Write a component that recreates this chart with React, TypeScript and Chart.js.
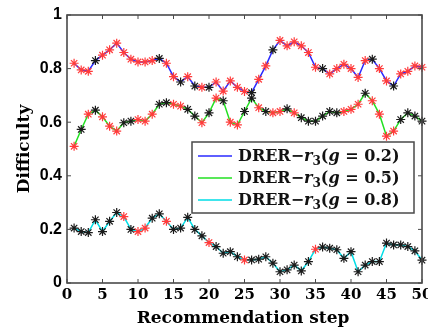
import { useEffect, useRef } from "react";
import { Chart, registerables } from "chart.js";
Chart.register(...registerables);

const steps = [1, 2, 3, 4, 5, 6, 7, 8, 9, 10, 11, 12, 13, 14, 15, 16, 17, 18, 19, 20, 21, 22, 23, 24, 25, 26, 27, 28, 29, 30, 31, 32, 33, 34, 35, 36, 37, 38, 39, 40, 41, 42, 43, 44, 45, 46, 47, 48, 49, 50];

const diffG02 = [0.82, 0.795, 0.79, 0.83, 0.85, 0.87, 0.895, 0.86, 0.835, 0.825, 0.825, 0.83, 0.838, 0.82, 0.77, 0.75, 0.77, 0.735, 0.73, 0.73, 0.75, 0.716, 0.754, 0.73, 0.715, 0.71, 0.76, 0.81, 0.87, 0.905, 0.885, 0.9, 0.885, 0.86, 0.805, 0.8, 0.78, 0.8, 0.816, 0.8, 0.767, 0.83, 0.835, 0.8, 0.754, 0.735, 0.78, 0.79, 0.81, 0.805];
const diffG05 = [0.51, 0.573, 0.63, 0.645, 0.62, 0.585, 0.567, 0.598, 0.604, 0.61, 0.604, 0.63, 0.667, 0.673, 0.667, 0.66, 0.648, 0.623, 0.598, 0.635, 0.69, 0.68, 0.6, 0.59, 0.64, 0.69, 0.654, 0.64, 0.635, 0.64, 0.65, 0.635, 0.617, 0.604, 0.604, 0.623, 0.64, 0.635, 0.64, 0.648, 0.667, 0.708, 0.68, 0.63, 0.548, 0.567, 0.61, 0.635, 0.623, 0.604];
const diffG08 = [0.205, 0.192, 0.188, 0.236, 0.192, 0.23, 0.263, 0.248, 0.2, 0.192, 0.205, 0.242, 0.258, 0.23, 0.2, 0.205, 0.245, 0.2, 0.176, 0.151, 0.136, 0.111, 0.117, 0.098, 0.086, 0.086, 0.089, 0.098, 0.074, 0.042, 0.049, 0.067, 0.045, 0.08, 0.126, 0.134, 0.13, 0.124, 0.092, 0.117, 0.042, 0.067, 0.08, 0.08, 0.149, 0.142, 0.142, 0.136, 0.12, 0.085];

// marker colour per step: R = red star, K = black star
const marksG02 = "RRRKRRRRRR" + "RRKRRKRKRK" + "RRRRRKRRKR" + "RRRRRKRRRR" + "RRKRRKRRRR";
const marksG05 = "RKRKRRRKKR" + "RRKKRRKKRK" + "RKRRKKRKRR" + "KRKKKKKKRR" + "RKRRRRKKKK";
const marksG08 = "KKKKKKKRKR" + "RKKRKKKKKR" + "KKKKRKKKKK" + "KKKKRKKKKK" + "KKKKKKKKKK";

const seriesLabels = ["0.2", "0.5", "0.8"];
const xTicks = [0, 5, 10, 15, 20, 25, 30, 35, 40, 45, 50];
const yTicks = [0, 0.2, 0.4, 0.6, 0.8, 1];
const yTickLabels = ["0", "0.2", "0.4", "0.6", "0.8", "1"];

const lineColors = ["#2a2aff", "#22e022", "#00dde6"];
const RED = "#ff3b3b";
const BLACK = "#1a1a1a";
const SERIF = "'DejaVu Serif', 'Liberation Serif', serif";
const SANS = "'Liberation Sans', Arial, sans-serif";

function makeData(vals: number[]) {
  return steps.map((s, i) => ({ x: s, y: vals[i] }));
}
function markColors(m: string) {
  return m.split("").map((c) => (c === "R" ? RED : BLACK));
}

const framePlugin = {
  id: "frameAndLegend",
  afterDraw(chart: any) {
    const { ctx, chartArea } = chart;
    const xs = chart.scales.x;
    const ys = chart.scales.y;
    const { left, right, top, bottom } = chartArea;
    ctx.save();
    // frame
    ctx.strokeStyle = "#4a4a4a";
    ctx.lineWidth = 1.6;
    ctx.strokeRect(left, top, right - left, bottom - top);
    // inward ticks
    ctx.lineWidth = 1;
    ctx.beginPath();
    xTicks.forEach((v) => {
      const p = xs.getPixelForValue(v);
      ctx.moveTo(p, bottom);
      ctx.lineTo(p, bottom - 4);
      ctx.moveTo(p, top);
      ctx.lineTo(p, top + 4);
    });
    yTicks.forEach((v) => {
      const p = ys.getPixelForValue(v);
      ctx.moveTo(left, p);
      ctx.lineTo(left + 4, p);
      ctx.moveTo(right, p);
      ctx.lineTo(right - 4, p);
    });
    ctx.stroke();

    // axis titles
    ctx.fillStyle = "#000";
    ctx.font = `bold 17px ${SERIF}`;
    ctx.textAlign = "center";
    ctx.textBaseline = "alphabetic";
    ctx.fillText("Recommendation step", 243, 323);
    ctx.save();
    ctx.translate(29, 149);
    ctx.rotate(-Math.PI / 2);
    ctx.fillText("Difficulty", 0, 0);
    ctx.restore();

    // legend
    const bx = 192, by = 142, bw = 222, bh = 71;
    ctx.fillStyle = "#fff";
    ctx.fillRect(bx, by, bw, bh);
    ctx.strokeStyle = "#4a4a4a";
    ctx.lineWidth = 1.5;
    ctx.strokeRect(bx, by, bw, bh);
    const rows = [156, 178, 200];
    const fs = 16;
    rows.forEach((ry, i) => {
      ctx.strokeStyle = lineColors[i];
      ctx.lineWidth = 1.5;
      ctx.beginPath();
      ctx.moveTo(198, ry);
      ctx.lineTo(232, ry);
      ctx.stroke();
      const segs = [
        { t: "DRER\u2212", f: `bold ${fs}px ${SERIF}`, dy: 0 },
        { t: "r", f: `italic bold ${fs}px ${SERIF}`, dy: 0 },
        { t: "3", f: `bold ${Math.round(fs * 0.72)}px ${SERIF}`, dy: 4 },
        { t: "(", f: `bold ${fs}px ${SERIF}`, dy: 0 },
        { t: "g", f: `italic bold ${fs}px ${SERIF}`, dy: 0 },
        { t: " = " + seriesLabels[i] + ")", f: `bold ${fs}px ${SERIF}`, dy: 0 },
      ];
      let tx = 238;
      ctx.fillStyle = "#111";
      ctx.textAlign = "left";
      segs.forEach((s) => {
        ctx.font = s.f;
        ctx.fillText(s.t, tx, ry + 5 + s.dy);
        tx += ctx.measureText(s.t).width;
      });
    });
    ctx.restore();
  },
};

export default function App() {
  const ref = useRef<HTMLCanvasElement | null>(null);
  useEffect(() => {
    if (!ref.current) return;
    const mk = (i: number, vals: number[], marks: string) => ({
      label: "g=" + seriesLabels[i],
      data: makeData(vals),
      borderColor: lineColors[i],
      borderWidth: 1.5,
      pointStyle: "star",
      pointRadius: 4.5,
      pointBorderWidth: 1.2,
      pointBorderColor: markColors(marks),
      pointBackgroundColor: markColors(marks),
      tension: 0,
      clip: false,
      fill: false,
    });
    const chart = new Chart(ref.current, {
      type: "line",
      data: {
        datasets: [mk(0, diffG02, marksG02), mk(1, diffG05, marksG05), mk(2, diffG08, marksG08)] as any,
      },
      options: {
        animation: false,
        responsive: false,
        devicePixelRatio: 1,
        layout: { padding: { top: 15, right: 6, left: 0, bottom: 0 } },
        plugins: { legend: { display: false }, tooltip: { enabled: false } },
        scales: {
          x: {
            type: "linear",
            min: 0,
            max: 50,
            ticks: { stepSize: 5, color: "#000", font: { family: SERIF, size: 15, weight: "bold" }, padding: 3, maxRotation: 0, autoSkip: false },
            grid: { display: false, drawTicks: false },
            border: { display: false },
            afterFit: (s: any) => {
              s.height = 46;
              s.paddingLeft = 0;
              s.paddingRight = 0;
            },
          },
          y: {
            min: 0,
            max: 1,
            ticks: {
              stepSize: 0.2,
              color: "#000",
              font: { family: SANS, size: 16, weight: "bold" },
              padding: 5,
              callback: (v: any) => {
                const idx = yTicks.findIndex((t) => Math.abs(t - Number(v)) < 1e-6);
                return idx >= 0 ? yTickLabels[idx] : "";
              },
            },
            grid: { display: false, drawTicks: false },
            border: { display: false },
            afterFit: (s: any) => {
              s.width = 67;
              s.paddingTop = 0;
              s.paddingBottom = 0;
            },
          },
        },
      } as any,
      plugins: [framePlugin],
    });
    return () => chart.destroy();
  }, []);
  return (
    <div style={{ position: "fixed", left: 0, top: 0, width: 428, height: 329, background: "#fff" }}>
      <canvas ref={ref} width={428} height={329} />
    </div>
  );
}
